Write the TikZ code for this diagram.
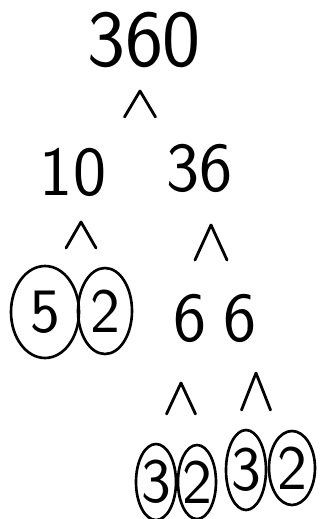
\documentclass[tikz,border=0pt]{standalone}
\usetikzlibrary{shapes.geometric}
\tikzset{
  num/.style={
    inner sep = 0pt,
    font=\sffamily\fontsize{40}{40}\selectfont
  },
  prime/.style={
    draw,
    shape = ellipse,
    inner sep = -4pt,
    line width=1.5pt,
    font=\sffamily\fontsize{36}{36}\selectfont
  },
  caret/.style={
    line width=1.6pt,
    line cap=round,
    line join=round
  }
}
\begin{document}
\begin{tikzpicture}
            \useasboundingbox (0,0) rectangle (6.42,-10.38);
            % numbers
            \node[num,font=\sffamily\fontsize{46}{46}\selectfont] (n360) at (2.88,-0.80) {360};
            \node[num] (n10) at (1.46,-3.44) {10};
            \node[num] (n36) at (4.00,-3.36) {36};
            \node[num] (n6a) at (3.80,-6.36) {6};
            \node[num] (n6b) at (4.80,-6.36) {6};
            % primes
            \node[prime,minimum width=1.36cm,minimum height=1.84cm] (p5) at (0.90,-6.24) {5};
            \node[prime,minimum width=1.08cm,minimum height=1.72cm] (p2a) at (2.10,-6.22) {2};
            \node[prime,minimum width=0.80cm,minimum height=1.52cm] (p3a) at (3.12,-9.64) {3};
            \node[prime,minimum width=0.76cm,minimum height=1.48cm] (p2b) at (3.94,-9.64) {2};
            \node[prime,minimum width=0.80cm,minimum height=1.60cm] (p3b) at (4.92,-9.40) {3};
            \node[prime,minimum width=0.92cm,minimum height=1.48cm] (p2c) at (5.84,-9.36) {2};
            % carets
            \foreach \x/\top/\bot/\w in {2.80/-1.82/-2.34/0.31, 1.62/-4.44/-4.96/0.30, 4.22/-4.50/-5.20/0.32, 3.62/-7.66/-8.28/0.29, 5.12/-7.46/-8.20/0.29}{
                    \draw[caret] (\x-\w,\bot) -- (\x,\top) -- (\x+\w,\bot);
                }
        \end{tikzpicture}
\end{document}
